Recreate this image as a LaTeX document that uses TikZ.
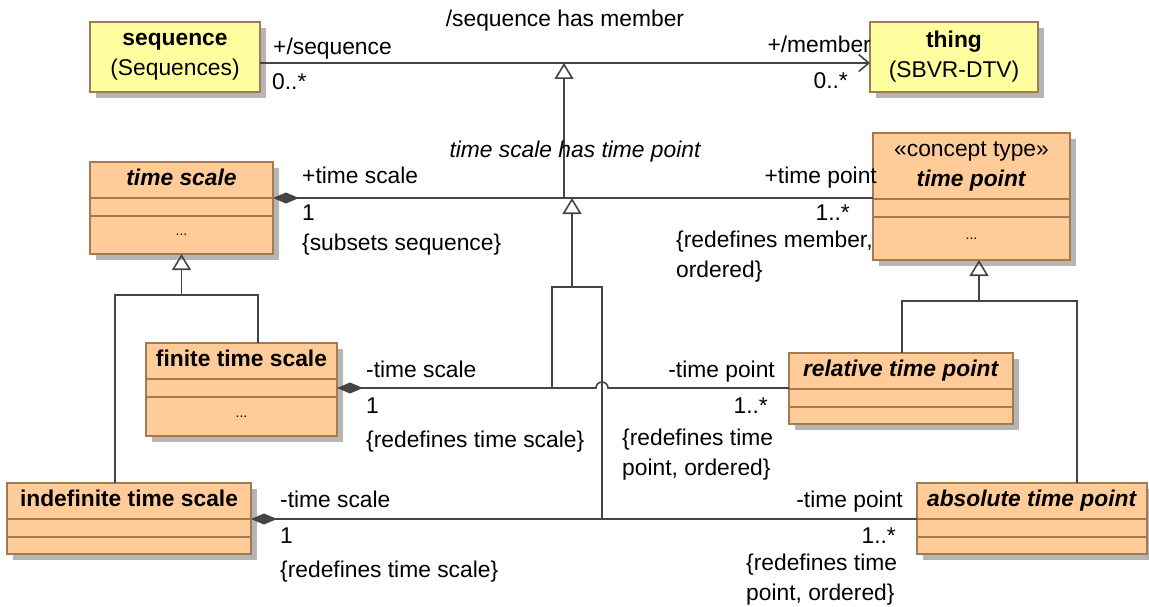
\documentclass[tikz,border=0pt]{standalone}
\usepackage{fontspec}
\setmainfont{Liberation Sans}
\usetikzlibrary{positioning,arrows.meta,shadows}
\definecolor{clsfill}{HTML}{FFCC99}
\definecolor{clsdraw}{HTML}{A27B55}
\definecolor{extfill}{HTML}{FFFFA0}
\definecolor{shade}{HTML}{B5B5B5}
\definecolor{wirecol}{HTML}{444444}
\begin{document}
\begin{tikzpicture}[
  x=1pt, y=-1pt,
  every node/.style={font=\fontsize{22.8}{30}\selectfont},
  part/.style={draw=clsdraw, line width=1.6pt, fill=clsfill, inner sep=0pt, outer sep=0pt,
    drop shadow={shadow xshift=6pt, shadow yshift=-6pt, fill=shade, opacity=1}},
  box/.style={part, align=center},
  head/.style={box, minimum height=36pt, text height=16pt, text depth=5pt},
  ext/.style={box, fill=extfill, minimum height=70pt},
  comp/.style={part, minimum height=18pt},
  opscomp/.style={part, font=\fontsize{14}{16}\selectfont},
  lbl/.style={inner sep=0pt},
  wire/.style={draw=wirecol, line width=1.6pt},
  assoc/.style={wire, {Diamond[length=26pt, width=11pt]}-},
  nav/.style={wire, -{Straight Barb[length=10pt, width=17pt]}},
  gen/.style={wire, -{Triangle[open, length=16pt, width=19pt]}}
]
\useasboundingbox (0,0) rectangle (1149,607);

\node[ext, minimum width=170pt, anchor=north west] (seq) at (90,22) {\textbf{sequence}\\(Sequences)};
\node[ext, minimum width=168pt, anchor=north west] (thing) at (870,22) {\textbf{thing}\\(SBVR-DTV)};

\node[head, minimum width=183pt, anchor=north west] (ts) at (90,162) {\textbf{\itshape time scale}};
\node[comp, minimum width=183pt, below=0pt of ts] (ts-a) {};
\node[opscomp, minimum width=183pt, minimum height=38pt, below=0pt of ts-a] (ts-o) {...};

\node[box, minimum width=197pt, minimum height=66pt, anchor=north west] (tp) at (873,133) {«concept type»\\\textbf{\itshape time point}};
\node[comp, minimum width=197pt, below=0pt of tp] (tp-a) {};
\node[opscomp, minimum width=197pt, minimum height=43pt, below=0pt of tp-a] (tp-o) {...};

\node[head, minimum width=191pt, anchor=north west] (fin) at (146,343) {\textbf{finite time scale}};
\node[comp, minimum width=191pt, below=0pt of fin] (fin-a) {};
\node[opscomp, minimum width=191pt, minimum height=39pt, below=0pt of fin-a] (fin-o) {...};

\node[head, minimum width=244pt, anchor=north west] (ind) at (7,483) {\textbf{indefinite time scale}};
\node[comp, minimum width=244pt, below=0pt of ind] (ind-a) {};
\node[comp, minimum width=244pt, minimum height=17pt, below=0pt of ind-a] (ind-o) {};

\node[head, minimum width=224pt, anchor=north west] (rel) at (789,353) {\textbf{\itshape relative time point}};
\node[comp, minimum width=224pt, below=0pt of rel] (rel-a) {};
\node[comp, minimum width=224pt, minimum height=17pt, below=0pt of rel-a] (rel-o) {};

\node[head, minimum width=230pt, anchor=north west] (abs) at (917,483) {\textbf{\itshape absolute time point}};
\node[comp, minimum width=230pt, below=0pt of abs] (abs-a) {};
\node[comp, minimum width=230pt, minimum height=17pt, below=0pt of abs-a] (abs-o) {};

\coordinate (seq-r) at ([yshift=-6pt]seq.east);
\coordinate (tp-link) at (564,198);
\coordinate (fin-link) at (572,198);
\coordinate (sub-l) at (552,287);
\coordinate (sub-r) at (602,287);
\coordinate (tsg-l) at (115,295);
\coordinate (tsg-r) at (258,295);
\coordinate (tpg-l) at (902,301);
\coordinate (tpg-m) at (979,301);
\coordinate (tpg-r) at (1077,301);

\draw[nav] (seq-r) -- (seq-r -| thing.west);
\draw[assoc] (ts.south east) -- (ts.south east -| tp.west);
\draw[gen] (tp-link) -- (tp-link |- seq-r);
\draw[gen] (sub-l -| fin-link) -- (fin-link);
\draw[wire] (sub-l |- fin-a.east) -- (sub-l) -- (sub-r) -- (sub-r |- ind.south east);
\draw[assoc] (fin-a.east) -- ([xshift=-6pt]sub-r |- fin-a.east) arc[start angle=180, end angle=0, radius=6pt] -- (fin-a.east -| rel.west);
\draw[assoc] (ind.south east) -- (ind.south east -| abs.west);
\draw[wire] (tsg-l |- ind.north) -- (tsg-l) -- (tsg-r) -- (tsg-r |- fin.north);
\draw[gen] (ts-o.south |- tsg-l) -- (ts-o.south);
\draw[wire] (tpg-l |- rel.north) -- (tpg-l) -- (tpg-r) -- (tpg-r |- abs.north);
\draw[gen] (tpg-m) -- (tpg-m |- tp-o.south);

\node[lbl, anchor=base] (seq-name) at (565,27) {/sequence has member};
\node[lbl, anchor=base west] (seq-role) at (273,55) {+/sequence};
\node[lbl, anchor=base west] (seq-mult) at (272,90) {0..*};
\node[lbl, anchor=base east] (mem-role) at (871,53) {+/member};
\node[lbl, anchor=base east] (mem-mult) at (848,89) {0..*};

\node[lbl, anchor=base, font=\fontsize{22.8}{30}\selectfont\itshape] (tstp-name) at (575,158) {time scale has time point};
\node[lbl, anchor=base west] (ts-role) at (302,184) {+time scale};
\node[lbl, anchor=base west] (ts-mult) at (302,220) {1};
\node[lbl, anchor=base west] (ts-cons) at (302,250) {\{subsets sequence\}};
\node[lbl, anchor=base east] (tp-role) at (877,184) {+time point};
\node[lbl, anchor=base east] (tp-mult) at (850,220) {1..*};
\node[lbl, anchor=base west, align=left] (tp-cons) at (676,277) {\{redefines member,\\ordered\}};

\node[lbl, anchor=base west] (fin-role) at (366,377) {-time scale};
\node[lbl, anchor=base west] (fin-mult) at (366,413) {1};
\node[lbl, anchor=base west] (fin-cons) at (366,447) {\{redefines time scale\}};
\node[lbl, anchor=base east] (rel-role) at (775,377) {-time point};
\node[lbl, anchor=base east] (rel-mult) at (768,413) {1..*};
\node[lbl, anchor=base west, align=left] (rel-cons) at (622,475) {\{redefines time\\point, ordered\}};

\node[lbl, anchor=base west] (ind-role) at (280,507) {-time scale};
\node[lbl, anchor=base west] (ind-mult) at (280,543) {1};
\node[lbl, anchor=base west] (ind-cons) at (280,577) {\{redefines time scale\}};
\node[lbl, anchor=base east] (abs-role) at (903,507) {-time point};
\node[lbl, anchor=base east] (abs-mult) at (896,543) {1..*};
\node[lbl, anchor=base west, align=left] (abs-cons) at (746,600) {\{redefines time\\point, ordered\}};
\end{tikzpicture}
\end{document}
